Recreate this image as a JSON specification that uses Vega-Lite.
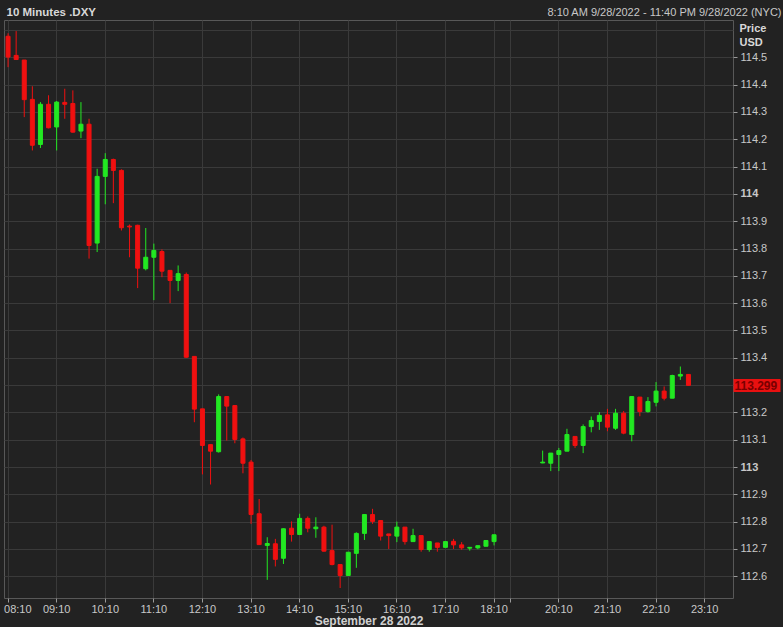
{
  "$schema": "https://vega.github.io/schema/vega-lite/v6.json",
  "width": 729,
  "height": 578,
  "autosize": {"type": "none"},
  "padding": {"left": 4, "top": 20, "right": 50, "bottom": 29},
  "background": "#222222",
  "config": {
    "font": "Liberation Sans",
    "view": {"stroke": "#585858", "strokeWidth": 1},
    "axis": {"labelFont": "Liberation Sans", "titleFont": "Liberation Sans"}
  },
  "data": {
    "values": [
      {"t": "08:10", "open": 114.577, "high": 114.588, "low": 114.464, "close": 114.501},
      {"t": "08:20", "open": 114.507, "high": 114.596, "low": 114.49, "close": 114.492},
      {"t": "08:30", "open": 114.49, "high": 114.49, "low": 114.281, "close": 114.345},
      {"t": "08:40", "open": 114.346, "high": 114.394, "low": 114.159, "close": 114.178},
      {"t": "08:50", "open": 114.181, "high": 114.336, "low": 114.168, "close": 114.328},
      {"t": "09:00", "open": 114.328, "high": 114.361, "low": 114.24, "close": 114.242},
      {"t": "09:10", "open": 114.245, "high": 114.34, "low": 114.159, "close": 114.336},
      {"t": "09:20", "open": 114.335, "high": 114.385, "low": 114.275, "close": 114.328},
      {"t": "09:30", "open": 114.331, "high": 114.379, "low": 114.224, "close": 114.226},
      {"t": "09:40", "open": 114.23, "high": 114.336, "low": 114.204, "close": 114.255},
      {"t": "09:50", "open": 114.255, "high": 114.275, "low": 113.763, "close": 113.811},
      {"t": "10:00", "open": 113.82, "high": 114.092, "low": 113.787, "close": 114.064},
      {"t": "10:10", "open": 114.064, "high": 114.149, "low": 113.962, "close": 114.126},
      {"t": "10:20", "open": 114.126, "high": 114.129, "low": 113.966, "close": 114.086},
      {"t": "10:30", "open": 114.086, "high": 114.09, "low": 113.866, "close": 113.876},
      {"t": "10:40", "open": 113.882, "high": 113.888, "low": 113.768, "close": 113.879},
      {"t": "10:50", "open": 113.885, "high": 113.887, "low": 113.655, "close": 113.728},
      {"t": "11:00", "open": 113.726, "high": 113.875, "low": 113.72, "close": 113.768},
      {"t": "11:10", "open": 113.768, "high": 113.818, "low": 113.611, "close": 113.793},
      {"t": "11:20", "open": 113.789, "high": 113.797, "low": 113.695, "close": 113.717},
      {"t": "11:30", "open": 113.72, "high": 113.72, "low": 113.6, "close": 113.683},
      {"t": "11:40", "open": 113.683, "high": 113.738, "low": 113.644, "close": 113.708},
      {"t": "11:50", "open": 113.705, "high": 113.712, "low": 113.4, "close": 113.402},
      {"t": "12:00", "open": 113.405, "high": 113.405, "low": 113.164, "close": 113.212},
      {"t": "12:10", "open": 113.213, "high": 113.213, "low": 112.973, "close": 113.079},
      {"t": "12:20", "open": 113.082, "high": 113.082, "low": 112.936, "close": 113.058},
      {"t": "12:30", "open": 113.056, "high": 113.266, "low": 113.053, "close": 113.258},
      {"t": "12:40", "open": 113.258, "high": 113.258, "low": 113.097, "close": 113.223},
      {"t": "12:50", "open": 113.225, "high": 113.225, "low": 113.087, "close": 113.101},
      {"t": "13:00", "open": 113.103, "high": 113.108, "low": 112.977, "close": 113.014},
      {"t": "13:10", "open": 113.018, "high": 113.026, "low": 112.792, "close": 112.826},
      {"t": "13:20", "open": 112.829, "high": 112.883, "low": 112.716, "close": 112.716},
      {"t": "13:30", "open": 112.713, "high": 112.743, "low": 112.587, "close": 112.72},
      {"t": "13:40", "open": 112.719, "high": 112.737, "low": 112.636, "close": 112.662},
      {"t": "13:50", "open": 112.666, "high": 112.775, "low": 112.645, "close": 112.774},
      {"t": "14:00", "open": 112.776, "high": 112.801, "low": 112.727, "close": 112.753},
      {"t": "14:10", "open": 112.753, "high": 112.829, "low": 112.753, "close": 112.812},
      {"t": "14:20", "open": 112.812, "high": 112.819, "low": 112.761, "close": 112.776},
      {"t": "14:30", "open": 112.774, "high": 112.816, "low": 112.741, "close": 112.78},
      {"t": "14:40", "open": 112.78, "high": 112.785, "low": 112.69, "close": 112.692},
      {"t": "14:50", "open": 112.694, "high": 112.789, "low": 112.64, "close": 112.643},
      {"t": "15:00", "open": 112.643, "high": 112.643, "low": 112.557, "close": 112.603},
      {"t": "15:10", "open": 112.603, "high": 112.688, "low": 112.603, "close": 112.688},
      {"t": "15:20", "open": 112.684, "high": 112.761, "low": 112.631, "close": 112.757},
      {"t": "15:30", "open": 112.757, "high": 112.826, "low": 112.733, "close": 112.826},
      {"t": "15:40", "open": 112.826, "high": 112.847, "low": 112.792, "close": 112.801},
      {"t": "15:50", "open": 112.804, "high": 112.804, "low": 112.731, "close": 112.747},
      {"t": "16:00", "open": 112.755, "high": 112.755, "low": 112.7, "close": 112.749},
      {"t": "16:10", "open": 112.747, "high": 112.8, "low": 112.725, "close": 112.78},
      {"t": "16:20", "open": 112.78, "high": 112.78, "low": 112.716, "close": 112.727},
      {"t": "16:30", "open": 112.727, "high": 112.774, "low": 112.727, "close": 112.749},
      {"t": "16:40", "open": 112.749, "high": 112.749, "low": 112.69, "close": 112.698},
      {"t": "16:50", "open": 112.698, "high": 112.727, "low": 112.69, "close": 112.727},
      {"t": "17:00", "open": 112.722, "high": 112.722, "low": 112.69, "close": 112.706},
      {"t": "17:10", "open": 112.706, "high": 112.727, "low": 112.706, "close": 112.727},
      {"t": "17:20", "open": 112.728, "high": 112.737, "low": 112.7, "close": 112.715},
      {"t": "17:30", "open": 112.715, "high": 112.725, "low": 112.697, "close": 112.704},
      {"t": "17:40", "open": 112.703, "high": 112.706, "low": 112.694, "close": 112.706},
      {"t": "17:50", "open": 112.704, "high": 112.712, "low": 112.699, "close": 112.712},
      {"t": "18:00", "open": 112.71, "high": 112.731, "low": 112.71, "close": 112.731},
      {"t": "18:10", "open": 112.727, "high": 112.752, "low": 112.713, "close": 112.752},
      {"t": "19:50", "open": 113.015, "high": 113.06, "low": 113.014, "close": 113.018},
      {"t": "20:00", "open": 113.014, "high": 113.051, "low": 112.985, "close": 113.051},
      {"t": "20:10", "open": 113.046, "high": 113.07, "low": 112.985, "close": 113.06},
      {"t": "20:20", "open": 113.058, "high": 113.14, "low": 113.058, "close": 113.119},
      {"t": "20:30", "open": 113.112, "high": 113.112, "low": 113.07, "close": 113.079},
      {"t": "20:40", "open": 113.079, "high": 113.156, "low": 113.051, "close": 113.148},
      {"t": "20:50", "open": 113.148, "high": 113.185, "low": 113.127, "close": 113.17},
      {"t": "21:00", "open": 113.167, "high": 113.201, "low": 113.136, "close": 113.189},
      {"t": "21:10", "open": 113.191, "high": 113.213, "low": 113.131, "close": 113.146},
      {"t": "21:20", "open": 113.142, "high": 113.213, "low": 113.136, "close": 113.197},
      {"t": "21:30", "open": 113.197, "high": 113.205, "low": 113.12, "close": 113.124},
      {"t": "21:40", "open": 113.119, "high": 113.258, "low": 113.094, "close": 113.258},
      {"t": "21:50", "open": 113.256, "high": 113.256, "low": 113.186, "close": 113.203},
      {"t": "22:00", "open": 113.203, "high": 113.256, "low": 113.199, "close": 113.24},
      {"t": "22:10", "open": 113.237, "high": 113.311, "low": 113.222, "close": 113.278},
      {"t": "22:20", "open": 113.278, "high": 113.295, "low": 113.244, "close": 113.252},
      {"t": "22:30", "open": 113.252, "high": 113.338, "low": 113.252, "close": 113.335},
      {"t": "22:40", "open": 113.333, "high": 113.368, "low": 113.319, "close": 113.339},
      {"t": "22:50", "open": 113.339, "high": 113.339, "low": 113.299, "close": 113.299}
    ]
  },
  "layer": [
    {
      "mark": {"type": "rule", "strokeWidth": 1},
      "encoding": {
        "x": {
          "field": "t",
          "type": "ordinal",
          "scale": {
            "domain": ["08:10","08:20","08:30","08:40","08:50","09:00","09:10","09:20","09:30","09:40","09:50","10:00","10:10","10:20","10:30","10:40","10:50","11:00","11:10","11:20","11:30","11:40","11:50","12:00","12:10","12:20","12:30","12:40","12:50","13:00","13:10","13:20","13:30","13:40","13:50","14:00","14:10","14:20","14:30","14:40","14:50","15:00","15:10","15:20","15:30","15:40","15:50","16:00","16:10","16:20","16:30","16:40","16:50","17:00","17:10","17:20","17:30","17:40","17:50","18:00","18:10","19:00","19:10","19:20","19:30","19:40","19:50","20:00","20:10","20:20","20:30","20:40","20:50","21:00","21:10","21:20","21:30","21:40","21:50","22:00","22:10","22:20","22:30","22:40","22:50","23:00","23:10","23:20","23:30","23:40"],
            "paddingInner": 0,
            "paddingOuter": 0
          },
          "axis": {
            "orient": "bottom",
            "values": ["08:10","09:10","10:10","11:10","12:10","13:10","14:10","15:10","16:10","17:10","18:10","19:10","20:10","21:10","22:10","23:10"],
            "labelExpr": "datum.value == '19:10' ? '' : datum.value",
            "bandPosition": 0.5,
            "labelAngle": 0,
            "labelFontSize": 11,
            "labelColor": "#c8c8c8",
            "labelPadding": 1,
            "labelAlign": {"condition": {"test": "datum.value == '08:10'", "value": "left"}, "value": "center"},
            "labelOffset": {"condition": {"test": "datum.value == '08:10'", "value": -4}, "value": 0},
            "tickSize": 4,
            "tickColor": "#9a9a9a",
            "domain": false,
            "grid": true,
            "gridColor": "#3a3a3a",
            "title": "September 28 2022",
            "titleFontSize": 12,
            "titleFontWeight": "bold",
            "titleColor": "#d0d0d0",
            "titlePadding": 1
          }
        },
        "y": {
          "field": "low",
          "type": "quantitative",
          "scale": {"domain": [112.5205, 114.6366], "nice": false, "zero": false},
          "axis": {
            "orient": "right",
            "values": [112.6, 112.7, 112.8, 112.9, 113, 113.1, 113.2, 113.3, 113.4, 113.5, 113.6, 113.7, 113.8, 113.9, 114, 114.1, 114.2, 114.3, 114.4, 114.5, 114.6, 113.299],
            "labelExpr": "(datum.value > 114.55 || abs(datum.value - 113.3) < 0.0001) ? '' : format(datum.value, '.4~f')",
            "labelFontSize": {"condition": {"test": "abs(datum.value - 113.299) < 0.0001", "value": 12}, "value": 11},
            "labelFontWeight": {"condition": {"test": "abs(datum.value - 113.299) < 0.0001 || abs(datum.value - round(datum.value)) < 0.0001", "value": "bold"}, "value": "normal"},
            "labelColor": {"condition": {"test": "abs(datum.value - 113.299) < 0.0001", "value": "#7a0000"}, "value": "#c8c8c8"},
            "labelPadding": {"condition": {"test": "abs(datum.value - 113.299) < 0.0001", "value": -46}, "value": 3},
            "tickSize": {"condition": {"test": "abs(datum.value - 113.299) < 0.0001", "value": 47}, "value": 4},
            "tickWidth": {"condition": {"test": "abs(datum.value - 113.299) < 0.0001", "value": 13}, "value": 1},
            "tickColor": {"condition": {"test": "abs(datum.value - 113.299) < 0.0001", "value": "#e81010"}, "value": "#9a9a9a"},
            "tickOpacity": {"condition": {"test": "datum.value > 114.55 || abs(datum.value - 113.3) < 0.0001", "value": 0}, "value": 1},
            "domain": false,
            "grid": true,
            "gridColor": "#3a3a3a",
            "gridOpacity": {"condition": {"test": "abs(datum.value - 113.299) < 0.0001", "value": 0}, "value": 1},
            "title": ["Price", "USD"],
            "titleAngle": 0,
            "titleAlign": "left",
            "titleBaseline": "top",
            "titleX": 6,
            "titleY": 2,
            "titleLineHeight": 14,
            "titleFontSize": 11,
            "titleFontWeight": "bold",
            "titleColor": "#d8d8d8"
          }
        },
        "y2": {"field": "high"},
        "color": {"condition": {"test": "datum.close < datum.open", "value": "#f01010"}, "value": "#22e822"}
      }
    },
    {
      "mark": {"type": "bar", "size": 4, "strokeWidth": 1},
      "encoding": {
        "x": {
          "field": "t",
          "type": "ordinal",
          "axis": {
            "orient": "top",
            "labels": false,
            "ticks": false,
            "domain": false,
            "grid": false,
            "title": "8:10 AM 9/28/2022 - 11:40 PM 9/28/2022 (NYC)",
            "titleX": 777,
            "titleY": -5,
            "titleAlign": "right",
            "titleBaseline": "alphabetic",
            "titleFontSize": 11,
            "titleFontWeight": "normal",
            "titleColor": "#c8c8c8"
          }
        },
        "y": {
          "field": "open",
          "type": "quantitative",
          "axis": {
            "orient": "left",
            "labels": false,
            "ticks": false,
            "domain": false,
            "grid": false,
            "title": "10 Minutes .DXY",
            "titleAngle": 0,
            "titleX": 2,
            "titleY": -5,
            "titleAlign": "left",
            "titleBaseline": "alphabetic",
            "titleFontSize": 11.5,
            "titleFontWeight": "bold",
            "titleColor": "#d8d8d8"
          }
        },
        "y2": {"field": "close"},
        "fill": {"condition": {"test": "datum.close < datum.open", "value": "#f01010"}, "value": "#22e822"},
        "stroke": {"condition": {"test": "datum.close < datum.open", "value": "#f01010"}, "value": "#22e822"}
      }
    }
  ],
  "resolve": {"axis": {"x": "independent", "y": "independent"}}
}
